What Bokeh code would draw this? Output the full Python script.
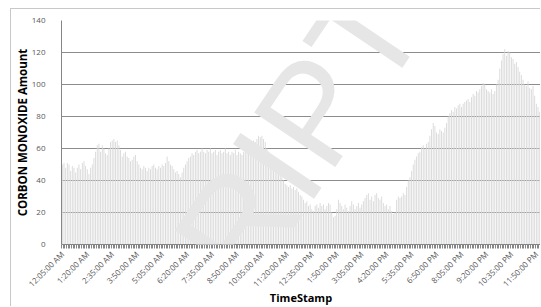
from bokeh.plotting import figure
from bokeh.models import Range1d, FixedTicker, Label
from bokeh.embed import file_html
from bokeh.resources import INLINE

# Carbon monoxide readings, one per 5 minutes (12:05 AM ... 12:00 AM)
co_values = [
    50, 51, 48, 51, 50, 46, 49, 48, 45, 48, 50, 47, 51, 52, 49,
    47, 44, 48, 50, 54, 58, 62, 63, 58, 62, 60, 57, 56,
    60, 64, 65, 66, 64, 65, 62,
    59, 55, 57, 58, 55, 54, 52, 53, 55, 56,
    52, 50, 48, 47, 49, 48, 46, 48, 47, 49, 50, 48, 47, 49,
    48, 50, 49, 51, 55, 52, 50, 49,
    47, 45, 46, 44, 42, 45,
    48, 50, 52, 54, 55, 57, 56, 58,
    59, 57, 58, 60, 58, 57, 59, 58, 60, 57, 58, 59, 56, 58, 59, 57, 58, 60, 57, 58,
    56, 58, 57, 59, 56, 58, 57, 56, 58, 60, 59,
    62, 64, 63, 65, 64, 66, 68, 67, 68, 66, 64, 60, 58, 56,
    54, 52, 50, 47, 45, 44, 42, 40, 38, 37, 36, 37, 35, 36, 34, 35, 33, 31,
    30, 28, 26, 27, 24, 25, 22, 21, 24, 25, 23, 26, 24, 25, 22, 24, 26,
    25, 20, 17, 18, 22,
    28, 26, 24, 22, 25, 23, 21, 24, 27, 25, 22, 24, 26, 23, 25,
    27, 29, 31, 32, 28, 30, 27, 31, 32, 29, 28, 30,
    26, 24, 25, 22, 24, 21, 19, 20, 28, 30, 29,
    30, 32, 31, 36, 40, 42, 46, 50, 53, 55, 57, 58, 61,
    62, 60, 63, 64, 68, 72, 76, 74, 70, 69, 72, 71, 70, 73,
    76, 80, 82, 84, 83, 86, 85, 87, 88, 86, 88, 89, 90, 91, 89,
    92, 94, 93, 96, 95, 97, 99, 101, 100, 97, 96, 95, 97, 94, 96,
    100, 103, 110, 115, 119, 122, 118, 121, 120, 117, 116, 113, 114, 111, 108,
    106, 103, 100, 99, 102, 98, 97, 99, 93, 88, 86, 83,
]

tick_labels = [
    "12:05:00 AM", "1:20:00 AM", "2:35:00 AM", "3:50:00 AM", "5:05:00 AM",
    "6:20:00 AM", "7:35:00 AM", "8:50:00 AM", "10:05:00 AM", "11:20:00 AM",
    "12:35:00 PM", "1:50:00 PM", "3:05:00 PM", "4:20:00 PM", "5:35:00 PM",
    "6:50:00 PM", "8:05:00 PM", "9:20:00 PM", "10:35:00 PM", "11:50:00 PM",
]
label_every = 15
y_ticks = [0, 20, 40, 60, 80, 100, 120, 140]

n = len(co_values)
xs = list(range(n))
major = [i * label_every for i in range(len(tick_labels))]

p = figure(width=530, height=298, output_backend="svg", toolbar_location=None,
           x_range=Range1d(-0.5, n - 0.5), y_range=Range1d(0, 140),
           min_border_left=44, min_border_top=11, min_border_right=1,
           min_border_bottom=0)
p.outline_line_color = None
p.background_fill_color = "white"
p.styles = {"margin-left": "10px", "margin-top": "8px",
            "border-top": "1px solid #c8c8c8", "border-left": "1px solid #c8c8c8"}

p.vbar(x=xs, top=co_values, bottom=0, width=0.55,
       fill_color="#d9d9d9", line_color=None)

# x axis
xa = p.xaxis[0]
xa.ticker = FixedTicker(ticks=major, minor_ticks=[i - 0.5 for i in range(n + 1)])
xa.major_label_overrides = {t: lab for t, lab in zip(major, tick_labels)}
xa.major_label_orientation = 0.785398
xa.major_tick_line_color = None
xa.minor_tick_line_color = "#868686"
xa.minor_tick_out = 4
xa.minor_tick_in = 0
xa.axis_line_color = "#868686"
xa.major_label_text_font = "Open Sans"
xa.major_label_text_font_size = "8px"
xa.major_label_text_color = "#595959"
xa.major_label_standoff = 2
xa.axis_label = "TimeStamp"
xa.axis_label_text_font = "Open Sans"
xa.axis_label_text_font_style = "bold"
xa.axis_label_text_font_size = "11px"
xa.axis_label_text_color = "#000000"
xa.axis_label_standoff = -6

# y axis
ya = p.yaxis[0]
ya.ticker = FixedTicker(ticks=y_ticks)
ya.major_tick_line_color = None
ya.minor_tick_line_color = None
ya.axis_line_color = "#868686"
ya.major_label_text_font = "Open Sans"
ya.major_label_text_font_size = "8px"
ya.major_label_text_color = "#595959"
ya.major_label_standoff = 10
ya.axis_label = "CORBON MONOXIDE Amount"
ya.axis_label_text_font = "Open Sans"
ya.axis_label_text_font_style = "bold"
ya.axis_label_text_font_size = "11.5px"
ya.axis_label_text_color = "#000000"
ya.axis_label_standoff = -1

p.xgrid.visible = False
p.ygrid.grid_line_color = "#8c8c8c"
p.ygrid.grid_line_width = 1

# watermark overlay
wm = Label(x=109.0, y=18.75, text="SCRIPT", angle=0.977,
           text_font="Liberation Sans", text_font_size="142px",
           text_color="#e6e6e6", text_align="center", text_baseline="middle",
           level="overlay")
p.add_layout(wm)

open("out.html", "w").write(file_html(p, INLINE))
